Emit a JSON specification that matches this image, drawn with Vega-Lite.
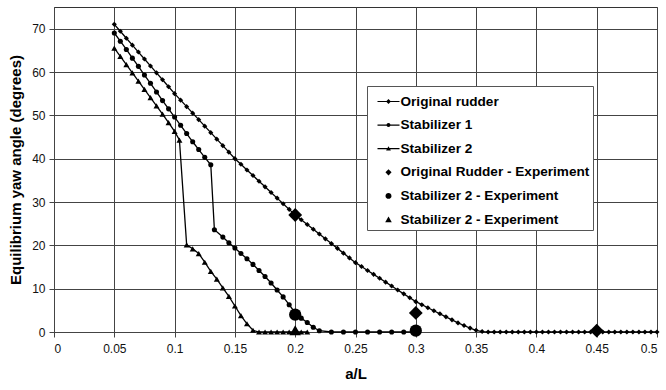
{
  "$schema": "https://vega.github.io/schema/vega-lite/v6.json",
  "autosize": "none",
  "width": 603,
  "height": 325,
  "padding": {"left": 54, "top": 7, "right": 9, "bottom": 58},
  "background": "white",
  "config": {
    "view": {"stroke": "#333", "strokeWidth": 1},
    "font": "Liberation Sans",
    "axis": {
      "labelFont": "Liberation Sans", "labelFontSize": 12, "labelColor": "#111",
      "titleFont": "Liberation Sans", "titleFontSize": 15, "titleFontWeight": "bold", "titleColor": "#000",
      "gridColor": "#444", "gridWidth": 1, "gridOpacity": 1,
      "tickColor": "#444", "tickSize": 5, "domainColor": "#444"
    }
  },
  "data": {"values": [
    {"s":"Original rudder","x":0.05,"y":71},{"s":"Original rudder","x":0.055,"y":69.4},{"s":"Original rudder","x":0.06,"y":67.8},{"s":"Original rudder","x":0.065,"y":66.2},{"s":"Original rudder","x":0.07,"y":64.6},{"s":"Original rudder","x":0.075,"y":63},{"s":"Original rudder","x":0.08,"y":61.4},{"s":"Original rudder","x":0.085,"y":59.8},{"s":"Original rudder","x":0.09,"y":58.2},{"s":"Original rudder","x":0.095,"y":56.6},
    {"s":"Original rudder","x":0.1,"y":55},{"s":"Original rudder","x":0.105,"y":53.5},{"s":"Original rudder","x":0.11,"y":52},{"s":"Original rudder","x":0.115,"y":50.5},{"s":"Original rudder","x":0.12,"y":49},{"s":"Original rudder","x":0.125,"y":47.5},{"s":"Original rudder","x":0.13,"y":46},{"s":"Original rudder","x":0.135,"y":44.5},{"s":"Original rudder","x":0.14,"y":43},{"s":"Original rudder","x":0.145,"y":41.5},
    {"s":"Original rudder","x":0.15,"y":40},{"s":"Original rudder","x":0.155,"y":38.7},{"s":"Original rudder","x":0.16,"y":37.4},{"s":"Original rudder","x":0.165,"y":36.1},{"s":"Original rudder","x":0.17,"y":34.8},{"s":"Original rudder","x":0.175,"y":33.5},{"s":"Original rudder","x":0.18,"y":32.2},{"s":"Original rudder","x":0.185,"y":30.9},{"s":"Original rudder","x":0.19,"y":29.6},{"s":"Original rudder","x":0.195,"y":28.3},
    {"s":"Original rudder","x":0.2,"y":27},{"s":"Original rudder","x":0.205,"y":25.9},{"s":"Original rudder","x":0.21,"y":24.8},{"s":"Original rudder","x":0.215,"y":23.7},{"s":"Original rudder","x":0.22,"y":22.6},{"s":"Original rudder","x":0.225,"y":21.5},{"s":"Original rudder","x":0.23,"y":20.4},{"s":"Original rudder","x":0.235,"y":19.3},{"s":"Original rudder","x":0.24,"y":18.2},{"s":"Original rudder","x":0.245,"y":17.1},
    {"s":"Original rudder","x":0.25,"y":16},{"s":"Original rudder","x":0.255,"y":15.1},{"s":"Original rudder","x":0.26,"y":14.2},{"s":"Original rudder","x":0.265,"y":13.3},{"s":"Original rudder","x":0.27,"y":12.4},{"s":"Original rudder","x":0.275,"y":11.5},{"s":"Original rudder","x":0.28,"y":10.6},{"s":"Original rudder","x":0.285,"y":9.7},{"s":"Original rudder","x":0.29,"y":8.8},{"s":"Original rudder","x":0.295,"y":7.9},
    {"s":"Original rudder","x":0.3,"y":7},{"s":"Original rudder","x":0.305,"y":6.3},{"s":"Original rudder","x":0.31,"y":5.6},{"s":"Original rudder","x":0.315,"y":4.9},{"s":"Original rudder","x":0.32,"y":4.2},{"s":"Original rudder","x":0.325,"y":3.5},{"s":"Original rudder","x":0.33,"y":2.8},{"s":"Original rudder","x":0.335,"y":2.1},{"s":"Original rudder","x":0.34,"y":1.5},{"s":"Original rudder","x":0.345,"y":0.9},
    {"s":"Original rudder","x":0.35,"y":0.4},{"s":"Original rudder","x":0.355,"y":0.1},{"s":"Original rudder","x":0.36,"y":0},{"s":"Original rudder","x":0.365,"y":0},{"s":"Original rudder","x":0.37,"y":0},{"s":"Original rudder","x":0.375,"y":0},{"s":"Original rudder","x":0.38,"y":0},{"s":"Original rudder","x":0.385,"y":0},{"s":"Original rudder","x":0.39,"y":0},{"s":"Original rudder","x":0.395,"y":0},
    {"s":"Original rudder","x":0.4,"y":0},{"s":"Original rudder","x":0.405,"y":0},{"s":"Original rudder","x":0.41,"y":0},{"s":"Original rudder","x":0.415,"y":0},{"s":"Original rudder","x":0.42,"y":0},{"s":"Original rudder","x":0.425,"y":0},{"s":"Original rudder","x":0.43,"y":0},{"s":"Original rudder","x":0.435,"y":0},{"s":"Original rudder","x":0.44,"y":0},{"s":"Original rudder","x":0.445,"y":0},
    {"s":"Original rudder","x":0.45,"y":0},{"s":"Original rudder","x":0.455,"y":0},{"s":"Original rudder","x":0.46,"y":0},{"s":"Original rudder","x":0.465,"y":0},{"s":"Original rudder","x":0.47,"y":0},{"s":"Original rudder","x":0.475,"y":0},{"s":"Original rudder","x":0.48,"y":0},{"s":"Original rudder","x":0.485,"y":0},{"s":"Original rudder","x":0.49,"y":0},{"s":"Original rudder","x":0.495,"y":0},{"s":"Original rudder","x":0.5,"y":0},

    {"s":"Stabilizer 1","x":0.05,"y":69},{"s":"Stabilizer 1","x":0.055,"y":67.1},{"s":"Stabilizer 1","x":0.06,"y":65.2},{"s":"Stabilizer 1","x":0.065,"y":63.2},{"s":"Stabilizer 1","x":0.07,"y":61.3},{"s":"Stabilizer 1","x":0.075,"y":59.3},{"s":"Stabilizer 1","x":0.08,"y":57.4},{"s":"Stabilizer 1","x":0.085,"y":55.4},{"s":"Stabilizer 1","x":0.09,"y":53.4},{"s":"Stabilizer 1","x":0.095,"y":51.5},
    {"s":"Stabilizer 1","x":0.1,"y":49.6},{"s":"Stabilizer 1","x":0.105,"y":47.7},{"s":"Stabilizer 1","x":0.11,"y":45.8},{"s":"Stabilizer 1","x":0.115,"y":43.9},{"s":"Stabilizer 1","x":0.12,"y":42.1},{"s":"Stabilizer 1","x":0.125,"y":40.3},{"s":"Stabilizer 1","x":0.13,"y":38.6},{"s":"Stabilizer 1","x":0.133,"y":23.6},{"s":"Stabilizer 1","x":0.14,"y":21.9},{"s":"Stabilizer 1","x":0.145,"y":20.6},
    {"s":"Stabilizer 1","x":0.15,"y":19.4},{"s":"Stabilizer 1","x":0.155,"y":18.1},{"s":"Stabilizer 1","x":0.16,"y":16.9},{"s":"Stabilizer 1","x":0.165,"y":15.6},{"s":"Stabilizer 1","x":0.17,"y":14.2},{"s":"Stabilizer 1","x":0.175,"y":12.8},{"s":"Stabilizer 1","x":0.18,"y":11.3},{"s":"Stabilizer 1","x":0.185,"y":9.7},{"s":"Stabilizer 1","x":0.19,"y":8.1},{"s":"Stabilizer 1","x":0.195,"y":6.3},
    {"s":"Stabilizer 1","x":0.2,"y":4.4},{"s":"Stabilizer 1","x":0.205,"y":3.2},{"s":"Stabilizer 1","x":0.21,"y":2.2},{"s":"Stabilizer 1","x":0.215,"y":1.1},{"s":"Stabilizer 1","x":0.22,"y":0.3},{"s":"Stabilizer 1","x":0.23,"y":0},{"s":"Stabilizer 1","x":0.24,"y":0},{"s":"Stabilizer 1","x":0.25,"y":0},{"s":"Stabilizer 1","x":0.26,"y":0},{"s":"Stabilizer 1","x":0.27,"y":0},{"s":"Stabilizer 1","x":0.28,"y":0},{"s":"Stabilizer 1","x":0.29,"y":0},{"s":"Stabilizer 1","x":0.3,"y":0},

    {"s":"Stabilizer 2","x":0.05,"y":65.5},{"s":"Stabilizer 2","x":0.055,"y":63.6},{"s":"Stabilizer 2","x":0.06,"y":61.7},{"s":"Stabilizer 2","x":0.065,"y":59.8},{"s":"Stabilizer 2","x":0.07,"y":57.9},{"s":"Stabilizer 2","x":0.075,"y":56},{"s":"Stabilizer 2","x":0.08,"y":54.1},{"s":"Stabilizer 2","x":0.085,"y":52.2},{"s":"Stabilizer 2","x":0.09,"y":50.3},{"s":"Stabilizer 2","x":0.095,"y":48.3},
    {"s":"Stabilizer 2","x":0.1,"y":46.3},{"s":"Stabilizer 2","x":0.104,"y":44.3},{"s":"Stabilizer 2","x":0.11,"y":20.1},{"s":"Stabilizer 2","x":0.115,"y":19.2},{"s":"Stabilizer 2","x":0.12,"y":18.1},{"s":"Stabilizer 2","x":0.125,"y":16.1},{"s":"Stabilizer 2","x":0.13,"y":14},{"s":"Stabilizer 2","x":0.135,"y":12.2},{"s":"Stabilizer 2","x":0.14,"y":10.2},{"s":"Stabilizer 2","x":0.145,"y":8.2},
    {"s":"Stabilizer 2","x":0.15,"y":6},{"s":"Stabilizer 2","x":0.155,"y":3.8},{"s":"Stabilizer 2","x":0.16,"y":1.9},{"s":"Stabilizer 2","x":0.165,"y":0.4},{"s":"Stabilizer 2","x":0.17,"y":0},{"s":"Stabilizer 2","x":0.175,"y":0},{"s":"Stabilizer 2","x":0.18,"y":0},{"s":"Stabilizer 2","x":0.185,"y":0},{"s":"Stabilizer 2","x":0.19,"y":0},{"s":"Stabilizer 2","x":0.195,"y":0},{"s":"Stabilizer 2","x":0.2,"y":0},{"s":"Stabilizer 2","x":0.205,"y":0},{"s":"Stabilizer 2","x":0.21,"y":0},

    {"s":"Original Rudder - Experiment","x":0.2,"y":27},{"s":"Original Rudder - Experiment","x":0.3,"y":4.4},{"s":"Original Rudder - Experiment","x":0.45,"y":0.3},
    {"s":"Stabilizer 2 - Experiment","x":0.2,"y":4},{"s":"Stabilizer 2 - Experiment","x":0.3,"y":0.3},
    {"s":"Stabilizer 2 - Experiment ","x":0.2,"y":0.4}
  ]},
  "encoding": {
    "x": {"field": "x", "type": "quantitative",
      "scale": {"domain": [0, 0.5], "nice": false},
      "axis": {"title": "a/L", "values": [0,0.05,0.1,0.15,0.2,0.25,0.3,0.35,0.4,0.45,0.5], "format": "~g", "labelPadding": 6, "titlePadding": 12, "grid": true}},
    "y": {"field": "y", "type": "quantitative",
      "scale": {"domain": [0, 75], "nice": false},
      "axis": {"title": "Equilibrium yaw angle (degrees)", "values": [0,10,20,30,40,50,60,70], "labelPadding": 4, "titlePadding": 8, "grid": true}}
  },
  "layer": [
    {
      "transform": [{"filter": {"field": "s", "oneOf": ["Original rudder", "Stabilizer 1", "Stabilizer 2"]}}],
      "mark": {"type": "line", "color": "black", "strokeWidth": 1.3},
      "encoding": {"detail": {"field": "s"}}
    },
    {
      "transform": [{"filter": {"field": "s", "equal": "Original rudder"}}],
      "mark": {"type": "point", "filled": true, "color": "black", "opacity": 1, "shape": "diamond", "size": 26}
    },
    {
      "transform": [{"filter": {"field": "s", "equal": "Stabilizer 1"}}],
      "mark": {"type": "point", "filled": true, "color": "black", "opacity": 1, "shape": "circle", "size": 26}
    },
    {
      "transform": [{"filter": {"field": "s", "equal": "Stabilizer 2"}}],
      "mark": {"type": "point", "filled": true, "color": "black", "opacity": 1, "shape": "triangle-up", "size": 36}
    },
    {
      "transform": [{"filter": {"field": "s", "equal": "Original Rudder - Experiment"}}],
      "mark": {"type": "point", "filled": true, "color": "black", "opacity": 1, "shape": "diamond", "size": 190}
    },
    {
      "transform": [{"filter": {"field": "s", "equal": "Stabilizer 2 - Experiment"}}],
      "mark": {"type": "point", "filled": true, "color": "black", "opacity": 1, "shape": "circle", "size": 150}
    },
    {
      "transform": [{"filter": {"field": "s", "equal": "Stabilizer 2 - Experiment "}}],
      "mark": {"type": "point", "filled": true, "color": "black", "opacity": 1, "shape": "triangle-up", "size": 130}
    },
    {
      "transform": [{"filter": "datum.x > 1"}],
      "mark": {"type": "point", "filled": true, "color": "black", "size": 484, "opacity": 1},
      "encoding": {
        "shape": {"field": "s",
          "scale": {"domain": ["Original rudder", "Stabilizer 1", "Stabilizer 2", "Original Rudder - Experiment", "Stabilizer 2 - Experiment", "Stabilizer 2 - Experiment "],
            "range": [
              "M-1,-0.055L1,-0.055L1,0.055L-1,0.055ZM0,-0.22L0.22,0L0,0.22L-0.22,0Z",
              "M-1,-0.055L1,-0.055L1,0.055L-1,0.055ZM-0.18,0A0.18,0.18 0 1,1 0.18,0A0.18,0.18 0 1,1 -0.18,0Z",
              "M-1,-0.055L1,-0.055L1,0.055L-1,0.055ZM0,-0.22L0.22,0.16L-0.22,0.16Z",
              "M0,-0.28L0.28,0L0,0.28L-0.28,0Z",
              "M-0.27,0A0.27,0.27 0 1,1 0.27,0A0.27,0.27 0 1,1 -0.27,0Z",
              "M0,-0.28L0.3,0.24L-0.3,0.24Z"
            ]},
          "legend": {
            "title": null, "orient": "none", "legendX": 313, "legendY": 79,
            "fillColor": "white", "strokeColor": "#555", "padding": 3.5,
            "symbolSize": 484, "symbolOffset": 6,
            "labelFont": "Liberation Sans", "labelFontSize": 13.6, "labelFontWeight": "bold", "labelColor": "black",
            "labelOffset": 0, "rowPadding": 4.6, "labelLimit": 300
          }
        }
      }
    }
  ]
}
